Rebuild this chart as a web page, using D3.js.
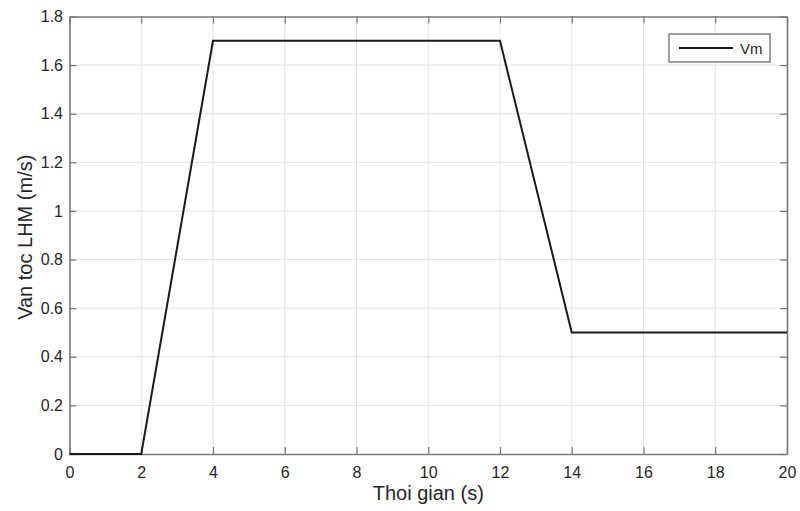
<!DOCTYPE html>
<html>
<head>
<meta charset="utf-8">
<script src="https://cdn.jsdelivr.net/npm/d3@7"></script>
<style>
  body { margin: 0; background: #fff; }
  text { font-family: "Liberation Sans", Arial, sans-serif; }
</style>
</head>
<body>
<svg id="chart" width="800" height="511"></svg>
<script>
// data
const timeS = [0, 2, 4, 12, 14, 20];
const vm = [0, 0, 1.7, 1.7, 0.5, 0.5];
const xTicks = [0, 2, 4, 6, 8, 10, 12, 14, 16, 18, 20];
const yTicks = [0, 0.2, 0.4, 0.6, 0.8, 1, 1.2, 1.4, 1.6, 1.8];
const seriesName = "Vm";

const margin = { left: 69.5, right: 13, top: 16.5, bottom: 57 };
const W = 800, H = 511;
const svg = d3.select("#chart");

let x = d3.scaleLinear().domain([0, 20]).range([margin.left, W - margin.right]);
let y = d3.scaleLinear().domain([0, 1.8]).range([H - margin.bottom, margin.top]);

const axisCol = "#777", gridCol = "#e3e3e3";

// grid
let grid = svg.append("g").attr("class", "grid");
grid.selectAll("line.gx").data(xTicks.slice(1, -1)).enter().append("line")
  .attr("x1", d => x(d)).attr("x2", d => x(d))
  .attr("y1", y(0)).attr("y2", y(1.8))
  .attr("stroke", gridCol).attr("stroke-width", 1);
grid.selectAll("line.gy").data(yTicks.slice(1, -1)).enter().append("line")
  .attr("y1", d => y(d)).attr("y2", d => y(d))
  .attr("x1", x(0)).attr("x2", x(20))
  .attr("stroke", gridCol).attr("stroke-width", 1);

// axes, ticks inward
function styleAxis(g) {
  g.select(".domain").attr("stroke", axisCol).attr("stroke-width", 1.6);
  g.selectAll(".tick line").attr("stroke", axisCol).attr("stroke-width", 1.2);
  g.selectAll(".tick text").attr("fill", "#262626").style("font-size", "16px");
}
const fmt = d => String(d);
svg.append("g").attr("transform", `translate(0,${y(0)})`)
  .call(d3.axisBottom(x).tickValues(xTicks).tickFormat(fmt).tickSizeInner(-7).tickSizeOuter(0).tickPadding(12.5))
  .call(styleAxis);
svg.append("g").attr("transform", `translate(0,${y(1.8)})`)
  .call(d3.axisTop(x).tickValues(xTicks).tickFormat("").tickSizeInner(-7).tickSizeOuter(0))
  .call(styleAxis);
svg.append("g").attr("transform", `translate(${x(0)},0)`)
  .call(d3.axisLeft(y).tickValues(yTicks).tickFormat(fmt).tickSizeInner(-7).tickSizeOuter(0).tickPadding(6.5))
  .call(styleAxis);
svg.append("g").attr("transform", `translate(${x(20)},0)`)
  .call(d3.axisRight(y).tickValues(yTicks).tickFormat("").tickSizeInner(-7).tickSizeOuter(0))
  .call(styleAxis);

// series
const pts = timeS.map((t, i) => [t, vm[i]]);
svg.append("path").datum(pts)
  .attr("fill", "none").attr("stroke", "#1a1a1a").attr("stroke-width", 2)
  .attr("d", d3.line().x(d => x(d[0])).y(d => y(d[1])));

// axis labels
svg.append("text").attr("x", (x(0) + x(20)) / 2).attr("y", 500)
  .attr("text-anchor", "middle").attr("fill", "#262626").style("font-size", "20px")
  .text("Thoi gian (s)");
svg.append("text").attr("transform", `translate(32,${(y(0) + y(1.8)) / 2 + 2}) rotate(-90)`)
  .attr("text-anchor", "middle").attr("fill", "#262626").style("font-size", "20px")
  .text("Van toc LHM (m/s)");

// legend
let lg = svg.append("g").attr("transform", "translate(669,34)");
lg.append("rect").attr("width", 101).attr("height", 28)
  .attr("fill", "#fff").attr("stroke", axisCol).attr("stroke-width", 1.4);
lg.append("line").attr("x1", 10).attr("x2", 64).attr("y1", 14).attr("y2", 14)
  .attr("stroke", "#1a1a1a").attr("stroke-width", 2);
lg.append("text").attr("x", 71).attr("y", 19.5).attr("fill", "#262626")
  .style("font-size", "15px").text(seriesName);
</script>
</body>
</html>
